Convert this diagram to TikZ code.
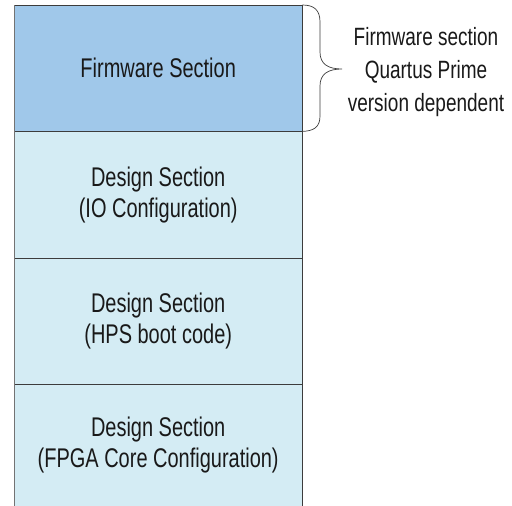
\documentclass[tikz,border=0pt]{standalone}
\usepackage{fontspec}
\setmainfont{Liberation Sans}[FakeStretch=0.74]
\newfontfamily\notefont{Liberation Sans}[FakeStretch=0.76]
\definecolor{fw}{RGB}{160,200,234}
\definecolor{ds}{RGB}{212,236,244}
\definecolor{edge}{RGB}{60,60,60}
\begin{document}
\begin{tikzpicture}[x=1pt,y=-1pt,
  sec/.style={rectangle, minimum width=288pt, inner sep=0pt, align=center,
    font=\fontsize{27}{31}\selectfont, text=black!90},
  rule/.style={draw=edge, line width=0.8pt},
  lbl/.style={align=center, font=\notefont\fontsize{25}{33}\selectfont, text=black!90}]
\useasboundingbox (0,0) rectangle (512,506);
\node[sec, fill=fw, minimum height=126pt, anchor=north west] (fw) at (14,5) {Firmware Section};
\node[sec, fill=ds, minimum height=127pt, anchor=north west] (io) at (14,131) {Design Section\\(IO Configuration)};
\node[sec, fill=ds, minimum height=126pt, anchor=north west] (hps) at (14,258) {Design Section\\(HPS boot code)};
\node[sec, fill=ds, minimum height=122pt, anchor=north west] (core) at (14,384) {Design Section\\(FPGA Core Configuration)};
% borders
\draw[rule] (fw.north west) -- (fw.north east);
\draw[rule] (fw.south west) -- (fw.south east);
\draw[rule] (io.south west) -- (io.south east);
\draw[rule] (hps.south west) -- (hps.south east);
\draw[draw=black!55, line width=0.8pt] (fw.north west) -- (core.south west);
\draw[rule] (fw.north east) -- (core.south east);
% brace
\node[lbl] (note) at (426,72) {Firmware section\\Quartus Prime\\version dependent};
\coordinate (tip) at (342,69);
\draw[rule, line width=0.7pt] (fw.north east) .. controls (314,5) and (320,10) .. (320,22)
  -- (320,52) .. controls (320,64) and (328,69) .. (tip)
  .. controls (328,69) and (320,74) .. (320,86)
  -- (320,116) .. controls (320,127) and (314,131) .. (fw.south east);
\end{tikzpicture}
\end{document}
